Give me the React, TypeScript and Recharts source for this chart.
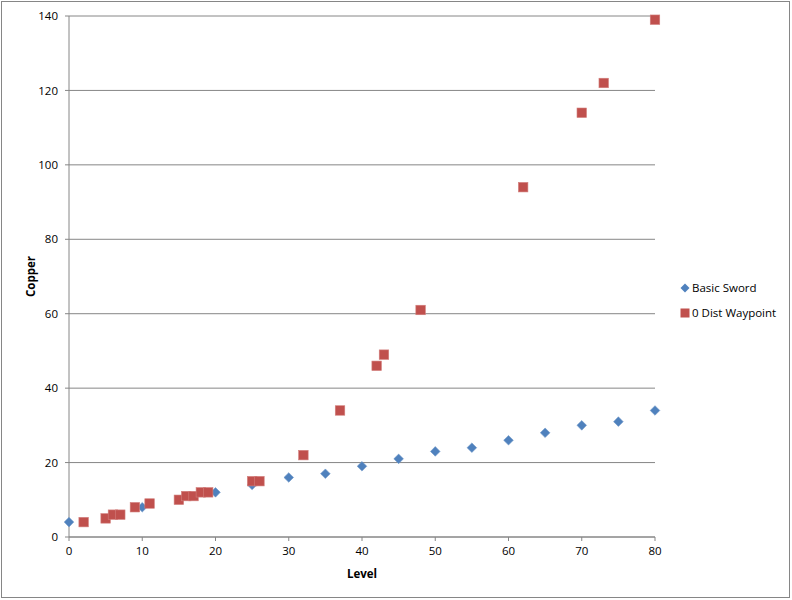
import React from "react";
import { ScatterChart, Scatter, XAxis, YAxis, CartesianGrid, Legend } from "recharts";

const swordLevels = [0, 10, 20, 25, 30, 35, 40, 45, 50, 55, 60, 65, 70, 75, 80];
const swordCopper = [4, 8, 12, 14, 16, 17, 19, 21, 23, 24, 26, 28, 30, 31, 34];

const waypointLevels = [2, 5, 6, 7, 9, 11, 15, 16, 17, 18, 19, 25, 26, 32, 37, 42, 43, 48, 62, 70, 73, 80];
const waypointCopper = [4, 5, 6, 6, 8, 9, 10, 11, 11, 12, 12, 15, 15, 22, 34, 46, 49, 61, 94, 114, 122, 139];

const xTicks = [0, 10, 20, 30, 40, 50, 60, 70, 80];
const yTicks = [0, 20, 40, 60, 80, 100, 120, 140];

const seriesNames = ["Basic Sword", "0 Dist Waypoint"];

const swordData = swordLevels.map((x, i) => ({ x, y: swordCopper[i] }));
const waypointData = waypointLevels.map((x, i) => ({ x, y: waypointCopper[i] }));

const BLUE = "#4F81BD";
const RED = "#C0504D";
const GRAY = "#868686";
const FONT = "'Open Sans', sans-serif";

const Diamond = (props: any) => {
  const { cx, cy } = props;
  if (cx == null || cy == null) return null;
  const r = 4.8;
  return (
    <polygon
      points={`${cx},${cy - r} ${cx + r},${cy} ${cx},${cy + r} ${cx - r},${cy}`}
      fill={BLUE}
      stroke="#6F97C8"
      strokeWidth={0.6}
    />
  );
};

const Square = (props: any) => {
  const { cx, cy } = props;
  if (cx == null || cy == null) return null;
  const s = 9.5;
  return (
    <rect x={cx - s / 2} y={cy - s / 2} width={s} height={s} fill={RED} stroke="#D27F7C" strokeWidth={0.6} />
  );
};

const LegendContent = () => (
  <div style={{ fontFamily: FONT, fontSize: 11.5, color: "#000" }}>
    <div style={{ display: "flex", alignItems: "center", height: 25 }}>
      <svg width={10} height={10} style={{ marginRight: 2 }}>
        <polygon points="5,0.5 9.5,5 5,9.5 0.5,5" fill={BLUE} />
      </svg>
      <span>{seriesNames[0]}</span>
    </div>
    <div style={{ display: "flex", alignItems: "center", height: 25 }}>
      <svg width={10} height={10} style={{ marginRight: 2 }}>
        <rect x={0.5} y={0.5} width={9} height={9} fill={RED} />
      </svg>
      <span>{seriesNames[1]}</span>
    </div>
  </div>
);

export default function App() {
  return (
    <div style={{ position: "absolute", left: 0, top: 0, width: 792, height: 600, background: "#fff" }}>
      <div
        style={{
          position: "absolute",
          left: 1,
          top: 1,
          width: 787,
          height: 595,
          border: `1px solid ${GRAY}`,
          pointerEvents: "none",
        }}
      />
      <ScatterChart width={792} height={600} margin={{ top: 16, right: 27, bottom: 33, left: 29 }}>
        <CartesianGrid horizontal={true} vertical={false} stroke={GRAY} strokeWidth={1} />
        <XAxis
          type="number"
          dataKey="x"
          domain={[0, 80]}
          ticks={xTicks}
          interval={0}
          height={30}
          stroke={GRAY}
          tickSize={4}
          tickMargin={6}
          tick={{ fill: "#000", fontSize: 11.5, fontFamily: FONT }}
          label={{ value: "Level", position: "insideBottom", offset: -11, fill: "#000", fontSize: 11.5, fontWeight: "bold", fontFamily: FONT }}
        />
        <YAxis
          type="number"
          dataKey="y"
          domain={[0, 140]}
          ticks={yTicks}
          interval={0}
          width={40}
          stroke={GRAY}
          tickSize={4}
          tickMargin={7}
          tick={{ fill: "#000", fontSize: 11.5, fontFamily: FONT }}
          label={{ value: "Copper", angle: -90, position: "insideLeft", offset: 2, fill: "#000", fontSize: 11.5, fontWeight: "bold", fontFamily: FONT, style: { textAnchor: "middle" } }}
        />
        <Legend
          layout="vertical"
          align="right"
          verticalAlign="middle"
          content={<LegendContent />}
          wrapperStyle={{ position: "absolute", left: 680, top: 275, width: 110 }}
        />
        <Scatter name={seriesNames[0]} data={swordData} shape={<Diamond />} isAnimationActive={false} />
        <Scatter name={seriesNames[1]} data={waypointData} shape={<Square />} isAnimationActive={false} />
      </ScatterChart>
    </div>
  );
}
